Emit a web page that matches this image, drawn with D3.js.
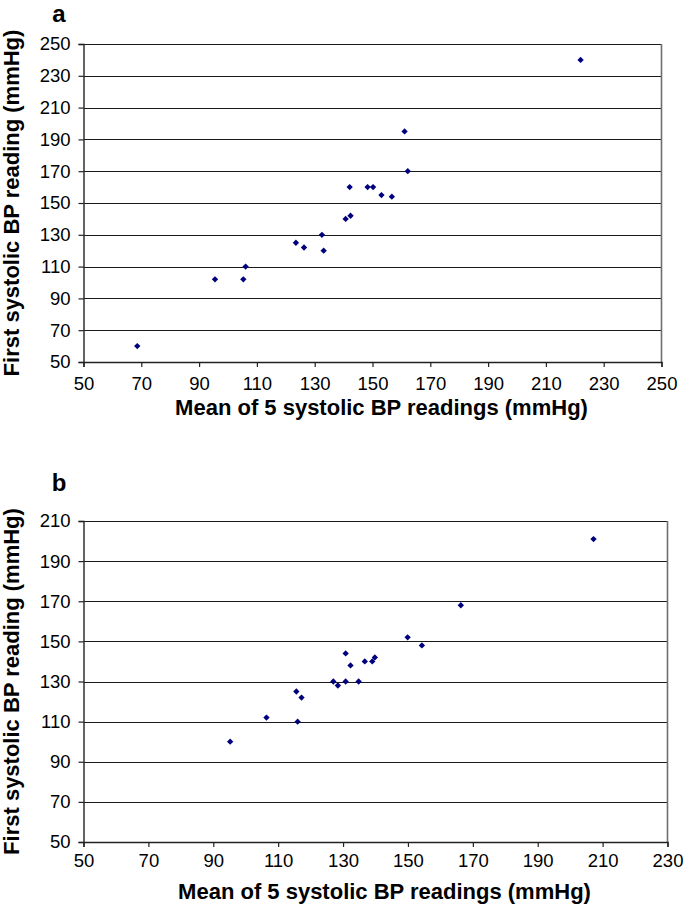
<!DOCTYPE html>
<html>
<head>
<meta charset="utf-8">
<script src="https://cdn.jsdelivr.net/npm/d3@7"></script>
<style>
  html, body { margin: 0; padding: 0; background: #fff; }
  svg { display: block; }
  text { font-family: "Liberation Sans", Arial, sans-serif; fill: #000; }
</style>
</head>
<body>
<svg id="chart" width="686" height="909"></svg>
<script>
// ---- Data ----
const xTitle = "Mean of 5 systolic BP readings (mmHg)";
const yTitle = "First systolic BP reading (mmHg)";

// Panel a
const meanA  = [68.6, 95.5, 105.3, 106.1, 123.5, 126.3, 132.5, 133.1, 140.7, 142.4, 142.1, 148.3, 150.2, 153.1, 156.7, 161.1, 162.2, 222];
const firstA = [60, 102, 102, 110, 125, 122, 130, 120, 140, 142, 160, 160, 160, 155, 154, 195, 170, 240];
const ticksAx = [50, 70, 90, 110, 130, 150, 170, 190, 210, 230, 250];
const ticksAy = [50, 70, 90, 110, 130, 150, 170, 190, 210, 230, 250];

// Panel b
const meanB  = [95.2, 106.4, 116.0, 115.6, 117.2, 127.0, 128.4, 130.8, 134.8, 130.8, 132.3, 136.7, 139.0, 139.8, 149.9, 154.3, 166.3, 207.2];
const firstB = [100, 112, 110, 125, 122, 130, 128, 130, 130, 144, 138, 140, 140, 142, 152, 148, 168, 201];
const ticksBx = [50, 70, 90, 110, 130, 150, 170, 190, 210, 230];
const ticksBy = [50, 70, 90, 110, 130, 150, 170, 190, 210];

const svg = d3.select("#chart");

function panel(opts) {
  const { label, xs, ys, xTicks, yTicks, left, right, top, bottom, labelY, titleY, xPad } = opts;
  const x = d3.scaleLinear().domain([xTicks[0], xTicks[xTicks.length - 1]]).range([left, right]);
  const y = d3.scaleLinear().domain([yTicks[0], yTicks[yTicks.length - 1]]).range([bottom, top]);
  const g = svg.append("g");

  // gridlines
  g.append("g").selectAll("line").data(yTicks.slice(1)).join("line")
    .attr("x1", left).attr("x2", right)
    .attr("y1", d => Math.round(y(d)) + 0.5).attr("y2", d => Math.round(y(d)) + 0.5)
    .attr("stroke", "#1a1a1a").attr("stroke-width", 1.2);

  // right border
  g.append("line").attr("x1", right).attr("x2", right).attr("y1", top).attr("y2", bottom)
    .attr("stroke", "#6e6e6e").attr("stroke-width", 1.6);

  // axes
  const xAxis = d3.axisBottom(x).tickValues(xTicks).tickSize(5).tickPadding(xPad).tickFormat(d3.format("d"));
  const yAxis = d3.axisLeft(y).tickValues(yTicks).tickSize(5).tickPadding(8).tickFormat(d3.format("d"));
  const gx = g.append("g").attr("transform", `translate(0,${bottom})`).call(xAxis);
  const gy = g.append("g").attr("transform", `translate(${left},0)`).call(yAxis);
  [gx, gy].forEach(a => {
    a.select(".domain").attr("stroke", "#222").attr("stroke-width", 1.4);
    a.selectAll(".tick line").attr("stroke", "#222").attr("stroke-width", 1.2);
    a.selectAll(".tick text").style("font-size", "18.5px").attr("fill", "#000");
  });

  // points (diamonds)
  const pts = xs.map((v, i) => [v, ys[i]]);
  g.append("g").selectAll("path").data(pts).join("path")
    .attr("d", d3.symbol(d3.symbolSquare, 20)())
    .attr("transform", d => `translate(${x(d[0])},${y(d[1])}) rotate(45)`)
    .attr("fill", "#00007f");

  // titles
  g.append("text").attr("x", (left + right) / 2 + 9).attr("y", titleY)
    .attr("text-anchor", "middle").style("font-size", "22px").style("font-weight", "bold")
    .text(xTitle);
  g.append("text").attr("transform", `translate(19,${(top + bottom) / 2}) rotate(-90)`)
    .attr("text-anchor", "middle").style("font-size", "22px").style("font-weight", "bold")
    .text(yTitle);
  g.append("text").attr("x", 59).attr("y", labelY).attr("text-anchor", "middle")
    .style("font-size", "24px").style("font-weight", "bold").text(label);
}

panel({ label: "a", xs: meanA, ys: firstA, xTicks: ticksAx, yTicks: ticksAy,
        left: 83.5, right: 661.5, top: 44, bottom: 362, labelY: 22, titleY: 415, xPad: 10 });
panel({ label: "b", xs: meanB, ys: firstB, xTicks: ticksBx, yTicks: ticksBy,
        left: 83.5, right: 667.5, top: 521, bottom: 842, labelY: 491, titleY: 899, xPad: 7 });
</script>
</body>
</html>
